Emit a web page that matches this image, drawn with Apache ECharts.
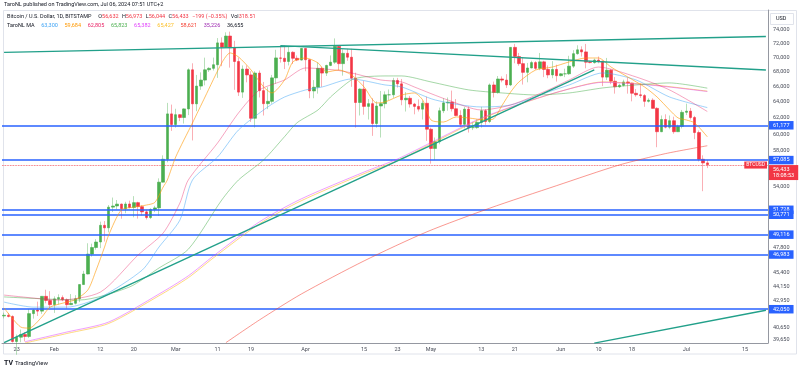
<!DOCTYPE html>
<html><head><meta charset="utf-8">
<script src="https://cdn.jsdelivr.net/npm/echarts@6/dist/echarts.min.js"></script>
<style>html,body{margin:0;padding:0;background:#fff}#c{width:800px;height:370px}</style>
</head><body><div id="c"></div>
<script>
// ---------- DATA ----------
const firstDate = '2024-01-20';     // first candle
const axisDays = 183;               // axis runs Jan 20 .. Jul 20
const opens = [41620,41680,41580,39540,39880,40100,39940,41820,42120,42030,43300,42940,
42580,43080,43190,43000,42580,42700,43090,44340,45290,47140,47770,48300,49950,49700,51810,51930,52130,51650,52140,51780,52280,51860,51320,50740,51570,51730,54480,57050,62500,
61180,62400,62050,63130,68300,63780,66100,66900,68300,68500,69000,72100,71480,73100,71400,69450,65300,68400,67600,61950,67850,65500,63800,64100,67200,69950,69900,69450,70750,69900,69650,
71300,69700,65450,65950,68500,67850,68900,69350,71600,69150,70600,70050,67150,63950,65700,63450,63800,61300,63500,63800,64950,64950,66850,66400,64300,64500,63750,63450,63100,63850,
60600,58300,59100,62900,63900,64000,63150,62300,61200,63100,60800,60800,61450,62900,61550,66250,65250,67050,66900,66250,71450,70150,69150,67950,68550,69300,68500,69400,68350,67600,68350,
67500,67750,67750,68800,70550,71100,70800,69350,69300,69650,69500,67300,68250,66750,66000,66200,66650,66500,65150,64950,64850,64100,64250,63200,60300,61800,60850,61650,60300,60950,
62700,62850,62050,60200,57050,56632];
const highs = [41900,41880,41680,40100,40500,40300,42200,42200,42840,43300,43880,43750,
43300,43480,43380,43120,43500,43400,44360,45580,48180,48140,48580,50320,50380,52030,52820,52560,52180,52370,52490,52970,52380,52000,51550,51700,51950,54900,57500,63900,63680,
63150,62450,63200,68500,69200,67600,67950,69990,68650,70000,72800,72900,73650,73750,72400,70000,68900,68900,68100,68100,68200,66650,65950,67600,71100,71500,71700,71500,70900,70300,71350,
71300,69700,66900,69300,68750,69000,70300,72750,71750,71150,71250,71250,67900,65800,66800,64400,64500,64100,65450,65400,65650,67200,67200,67050,65300,64800,63900,64350,64200,64700,
60800,59600,63300,64500,64600,65500,64400,62950,63400,63450,61500,61800,63400,63100,66450,66700,67450,67400,67700,71500,71950,70650,70050,69250,69550,69500,70650,69550,68900,69500,69000,
67850,68450,70250,71050,71750,71600,71950,69550,69850,70150,69550,69950,68400,67300,66400,66950,67250,66550,65700,66450,65050,64500,64500,63350,62300,62450,62300,62150,61150,63000,
63800,63250,62250,60450,57500,56973];
const lows = [41420,41500,39450,38500,39480,39550,39820,41400,41620,41800,42700,42300,
41880,42580,42880,42250,42560,42600,42800,44330,45250,46900,47560,47710,48350,49250,51310,51570,50620,51180,51680,50760,50630,50950,50540,50590,51290,50900,54450,56700,60400,
60800,61600,61300,62350,59250,62850,65600,66200,68000,68200,67200,68800,71400,68600,65600,64800,64550,66600,61500,60800,64600,62300,63100,63800,66400,69300,68400,68900,69100,69500,69600,
68100,64500,64500,65100,66000,67450,68800,69100,68250,67500,69550,66000,60800,62300,62400,61800,59800,60800,59600,63200,64250,64550,65900,63600,62800,63300,62450,62800,61800,59200,
56550,56950,58800,62600,62900,62800,62200,60900,60700,60200,60500,60650,60800,61150,61350,64600,65100,66600,65850,66100,69200,68850,66300,66600,68500,68300,68250,67300,67150,67150,66700,
67400,67300,67600,68550,70400,70150,68500,69200,69150,69200,66100,66900,66350,65100,65850,66050,65100,64100,64700,64550,63400,63950,63200,58450,60250,60700,60600,60050,60300,60700,
62350,61800,59400,56800,53500,56044];
const closes = [41680,41580,39540,39880,40100,39940,41820,42120,42030,43300,42940,42580,
43080,43190,43000,42580,42700,43090,44340,45290,47140,47770,48300,49950,49700,51810,51930,52130,51650,52140,51780,52280,51860,51320,50740,51570,51730,54480,57050,62500,61180,
62400,62050,63130,68300,63780,66100,66900,68300,68500,69000,72100,71480,73100,71400,69450,65300,68400,67600,61950,67850,65500,63800,64100,67200,69950,69900,69450,70750,69900,69650,71300,
69700,65450,65950,68500,67850,68900,69350,71600,69150,70600,70050,67150,63950,65700,63450,63800,61300,63500,63800,64950,64950,66850,66400,64300,64500,63750,63450,63100,63850,60600,
58300,59100,62900,63900,64000,63150,62300,61200,63100,60800,60800,61450,62900,61550,66250,65250,67050,66900,66250,71450,70150,69150,67950,68550,69300,68500,69400,68350,67600,68350,67500,
67750,67750,68800,70550,71100,70800,69350,69300,69650,69500,67300,68250,66750,66000,66200,66650,66500,65150,64950,64850,64100,64250,63200,60300,61800,60850,61650,60300,60950,62700,
62850,62050,60200,57050,56630,56433];

// Moving averages: [date, price]
const maFast = [['2024-01-20',42300],['2024-01-24',40700],['2024-01-26',40620],['2024-01-29',41530],['2024-01-31',42370],['2024-02-04',42800],['2024-02-06',43000],['2024-02-09',43850],['2024-02-11',45650],['2024-02-13',47810],['2024-02-14',49000],['2024-02-17',51510],['2024-02-20',51820],['2024-02-23',52030],['2024-02-25',52300],['2024-02-27',53950],['2024-02-28',54715],['2024-03-01',57310],['2024-03-05',61370],['2024-03-08',64660],['2024-03-12',69250],['2024-03-14',70660],['2024-03-16',70090],['2024-03-19',68276],['2024-03-22',65980],['2024-03-24',65190],['2024-03-27',66915],['2024-03-29',69390],['2024-04-01',69940],['2024-04-04',69250],['2024-04-06',68000],['2024-04-09',68276],['2024-04-12',67590],['2024-04-15',65980],['2024-04-18',63890],['2024-04-20',64020],['2024-04-24',64920],['2024-04-27',65190],['2024-04-29',64275],['2024-05-01',61740],['2024-05-04',61490],['2024-05-07',62120],['2024-05-10',61990],['2024-05-14',61740],['2024-05-16',61900],['2024-05-18',63600],['2024-05-20',65300],['2024-05-22',66650],['2024-05-26',68276],['2024-05-30',68680],['2024-06-03',69390],['2024-06-07',69940],['2024-06-10',69940],['2024-06-13',68680],['2024-06-17',67320],['2024-06-21',65980],['2024-06-24',64660],['2024-06-27',62990],['2024-06-29',62000],['2024-07-01',61740],['2024-07-03',61370],['2024-07-06',59684]];
const maPink = [['2024-01-20',43410],['2024-01-27',43150],['2024-02-02',42974],['2024-02-12',43670],['2024-02-21',47050],['2024-02-27',49180],['2024-03-02',52240],['2024-03-04',54715],['2024-03-11',58950],['2024-03-16',62620],['2024-03-21',65582],['2024-03-27',66915],['2024-04-01',68550],['2024-04-08',68276],['2024-04-12',67870],['2024-04-19',66915],['2024-04-24',66650],['2024-04-27',65980],['2024-05-05',64275],['2024-05-13',62994],['2024-05-20',63630],['2024-05-29',65582],['2024-06-03',66915],['2024-06-10',68680],['2024-06-19',67320],['2024-06-27',65582],['2024-07-06',62805]];
const maBlue = [['2024-01-20',42800],['2024-01-27',42370],['2024-02-04',42370],['2024-02-12',43220],['2024-02-22',45650],['2024-02-26',47810],['2024-03-02',50480],['2024-03-05',54715],['2024-03-11',57310],['2024-03-16',60510],['2024-03-23',63380],['2024-03-27',64660],['2024-04-01',65580],['2024-04-05',65980],['2024-04-12',67050],['2024-04-20',66250],['2024-04-24',65980],['2024-05-02',64275],['2024-05-13',63380],['2024-05-20',63630],['2024-05-29',65320],['2024-06-03',66250],['2024-06-11',67870],['2024-06-19',66915],['2024-06-27',64660],['2024-07-06',63300]];
const maGreen = [['2024-01-20',43250],['2024-02-07',42980],['2024-02-19',44130],['2024-02-26',45840],['2024-03-04',47600],['2024-03-12',52560],['2024-03-16',54720],['2024-03-22',56970],['2024-03-27',59700],['2024-03-30',61400],['2024-04-04',63000],['2024-04-07',64670],['2024-04-12',66920],['2024-04-15',67330],['2024-04-20',67460],['2024-04-24',67460],['2024-05-01',66650],['2024-05-10',65590],['2024-05-18',65190],['2024-05-26',64930],['2024-06-03',65190],['2024-06-11',65850],['2024-06-19',66250],['2024-06-27',66520],['2024-07-06',65823]];
const maMagenta = [['2024-01-25',39520],['2024-02-04',40300],['2024-02-14',41120],['2024-02-26',43500],['2024-03-04',45120],['2024-03-10',46960],['2024-03-21',50300],['2024-03-31',52680],['2024-04-15',55600],['2024-04-23',57080],['2024-05-01',59000],['2024-05-12',61750],['2024-05-21',63550],['2024-06-01',65420],['2024-06-11',66600],['2024-06-23',66200],['2024-07-06',65382]];
const maYellow = [['2024-01-25',39420],['2024-02-04',40180],['2024-02-14',41000],['2024-02-26',43350],['2024-03-04',44950],['2024-03-10',46780],['2024-03-21',50100],['2024-03-31',52480],['2024-04-15',55420],['2024-04-23',56900],['2024-05-01',58850],['2024-05-12',61650],['2024-05-21',63500],['2024-06-01',65420],['2024-06-11',66650],['2024-06-23',66260],['2024-07-06',65427]];
const maRed = [['2024-03-13',39450],['2024-03-21',41290],['2024-03-31',43500],['2024-04-15',46500],['2024-04-30',49300],['2024-05-15',51700],['2024-05-31',54100],['2024-06-15',56400],['2024-06-26',57700],['2024-07-06',58621]];

// Drawn trend lines: [date, price] end points
const trendTop = [['2024-01-20',70740],['2024-07-20',73020]];
const trendDown = [['2024-03-26',71700],['2024-07-20',68270]];
const trendUp = [['2024-01-20',39450],['2024-06-09',68290]];
const trendLow = [['2024-06-09',39412],['2024-07-20',42100]];

// Horizontal levels
const levels = [61177, 57085, 51728, 50771, 49116, 46983, 42050];
const lastPrice = 56433;
const priceTicks = [74000,72000,70000,68000,66000,64000,62000,60000,58000,54000,47800,45400,44150,42950,40650,39650];
const xLabelMap = {'2024-01-23':'23','2024-02-01':'Feb','2024-02-12':'12','2024-02-20':'20','2024-03-01':'Mar','2024-03-11':'11','2024-03-19':'19','2024-04-01':'Apr','2024-04-15':'15','2024-04-23':'23','2024-05-01':'May','2024-05-13':'13','2024-05-21':'21','2024-06-01':'Jun','2024-06-10':'10','2024-06-18':'18','2024-07-01':'Jul','2024-07-15':'15'};
const priceMin = 39420, priceMax = 77030;

// ---------- BUILD ----------
const L = Math.log;
const fmt = v => Math.round(v).toString().replace(/\B(?=(\d{3})+(?!\d))/g, ',');
const d0 = new Date(firstDate + 'T00:00:00Z');
const dates = [];
for (let i = 0; i < axisDays; i++) {
  dates.push(new Date(d0.getTime() + i * 86400000).toISOString().slice(0, 10));
}
const wickData = opens.map((o, i) => [L(o), L(closes[i]), L(lows[i]), L(highs[i])]);
const bodyData = opens.map((o, i) => [L(o), L(closes[i]), L(Math.min(o, closes[i])), L(Math.max(o, closes[i]))]);
const toLn = arr => arr.map(p => [p[0], L(p[1])]);
const FONT = 'Roboto, "Noto Sans", sans-serif';
const FS = 5.5;

function maSeries(data, color, z) {
  return { type: 'line', data: toLn(data), showSymbol: false, smooth: 0.25, silent: true, z: z || 5,
    lineStyle: { width: 1, color: color }, itemStyle: { color: color } };
}
function trend(data) {
  return { type: 'line', data: toLn(data), showSymbol: false, silent: true, z: 6,
    lineStyle: { width: 1.4, color: '#22a08a' } };
}

const levelLines = levels.map(p => ({
  yAxis: L(p),
  lineStyle: { color: '#2962ff', width: 1.5, type: 'solid' },
  label: { show: true, position: 'end', distance: 1, formatter: fmt(p), backgroundColor: '#2962ff',
    color: '#fff', fontSize: FS, fontFamily: FONT, padding: [1.5, 4, 1, 4] }
}));
levelLines.push({
  yAxis: L(lastPrice),
  lineStyle: { color: 'rgba(242,54,69,0.55)', width: 0.8, type: 'dotted' },
  label: { show: true, position: 'end', distance: 1, formatter: fmt(lastPrice) + '\n18:08:53',
    backgroundColor: '#f23645', color: '#fff', fontSize: FS, lineHeight: 6, fontFamily: FONT,
    padding: [1.5, 4, 1.5, 4], verticalAlign: 'top' }
});
levelLines.push({
  yAxis: L(lastPrice),
  lineStyle: { color: 'rgba(242,54,69,0.55)', width: 0.8, type: 'dotted' },
  label: { show: true, position: 'end', distance: -1, align: 'right', formatter: 'BTCUSD',
    backgroundColor: '#f23645', color: '#fff', fontSize: 5, fontFamily: FONT, padding: [1, 2, 1, 2] }
});

function rt(key, color) { return { fontSize: FS, fill: color, fontFamily: FONT }; }

const chart = echarts.init(document.getElementById('c'), null, { renderer: 'canvas', width: 800, height: 370 });
chart.setOption({
  animation: false,
  backgroundColor: '#ffffff',
  textStyle: { fontFamily: FONT },
  graphic: [
    { type: 'rect', shape: { x: 3.5, y: 10.5, width: 793, height: 343.5 }, style: { fill: 'none', stroke: '#e0e3eb', lineWidth: 1 }, z: 0, silent: true },
    { type: 'text', x: 4, y: 5, silent: true, z: 20,
      style: { text: 'TaroNL published on TradingView.com, Jul 06, 2024 07:51 UTC+2', fontSize: FS, fill: '#131722', fontFamily: FONT, verticalAlign: 'middle' } },
    { type: 'text', x: 7, y: 17, silent: true, z: 20,
      style: { verticalAlign: 'middle',
        text: '{n|Bitcoin / U.S. Dollar, 1D, BITSTAMP}  {n|O}{r|56,632} {n|H}{r|56,973} {n|L}{r|56,044} {n|C}{r|56,433} {r|−199 (−0.35%)} {n|Vol}{r|318.51}',
        rich: { n: rt('n', '#131722'), r: rt('r', '#f23645') } } },
    { type: 'text', x: 7, y: 26, silent: true, z: 20,
      style: { verticalAlign: 'middle',
        text: '{n|TaroNL MA}  {a|63,300}  {b|59,684}  {c|62,805}  {d|65,823}  {e|65,382}  {f|65,427}  {g|58,621}  {h|35,226}  {i|36,655}',
        rich: { n: rt('n', '#131722'), a: rt('a', '#42a5f5'), b: rt('b', '#ff9800'), c: rt('c', '#e91e63'),
          d: rt('d', '#4caf50'), e: rt('e', '#e040fb'), f: rt('f', '#fbc02d'), g: rt('g', '#f44336'),
          h: rt('h', '#9c27b0'), i: rt('i', '#131722') } } },
    { type: 'rect', shape: { x: 770.5, y: 13.5, width: 23, height: 11 }, style: { fill: '#fff', stroke: '#e0e3eb', lineWidth: 1 }, z: 10, silent: true },
    { type: 'text', x: 776, y: 19, silent: true, z: 11, style: { text: 'USD', fontSize: FS, fill: '#131722', fontFamily: FONT, verticalAlign: 'middle' } },
    { type: 'text', x: 4, y: 363, silent: true, style: { text: 'TV', fontSize: 7, fontWeight: 'bold', fill: '#131722', fontFamily: FONT, verticalAlign: 'middle' } },
    { type: 'text', x: 15, y: 363, silent: true, style: { text: 'TradingView', fontSize: 6, fill: '#131722', fontFamily: FONT, verticalAlign: 'middle' } }
  ],
  grid: { left: 2, right: 32, top: 10, bottom: 27, containLabel: false },
  xAxis: {
    type: 'category', data: dates, boundaryGap: true,
    axisLine: { show: true, lineStyle: { color: '#9598a1', width: 1 } },
    axisTick: { show: false }, splitLine: { show: false },
    axisLabel: { interval: (i, v) => xLabelMap[v] !== undefined, formatter: v => xLabelMap[v] || '',
      fontSize: FS, color: '#4a4e5a', margin: 4, fontFamily: FONT }
  },
  yAxis: {
    type: 'value', position: 'right', min: L(priceMin), max: L(priceMax), scale: true,
    splitLine: { show: false },
    axisLine: { show: true, lineStyle: { color: '#9598a1', width: 1 } },
    axisTick: { show: false },
    axisLabel: { customValues: priceTicks.map(L), formatter: v => fmt(Math.exp(v)),
      fontSize: FS, color: '#4a4e5a', margin: 5, fontFamily: FONT }
  },
  series: [
    { type: 'candlestick', name: 'wicks', data: wickData, barWidth: 1, silent: true, z: 2,
      itemStyle: { color: 'rgba(76,175,80,0.4)', color0: 'rgba(242,54,69,0.4)', borderColor: 'rgba(76,175,80,0.4)', borderColor0: 'rgba(242,54,69,0.4)', borderWidth: 1 } },
    { type: 'candlestick', name: 'bodies', data: bodyData, barWidth: 3, silent: true, z: 3,
      itemStyle: { color: '#4caf50', color0: '#f23645', borderColor: '#4caf50', borderColor0: '#f23645', borderWidth: 0.6 },
      markLine: { symbol: ['none', 'none'], silent: true, animation: false, data: levelLines } },
    maSeries(maRed, 'rgba(244,67,54,0.55)'),
    maSeries(maYellow, 'rgba(251,192,45,0.6)'),
    maSeries(maMagenta, 'rgba(224,64,251,0.5)'),
    maSeries(maGreen, 'rgba(76,175,80,0.5)'),
    maSeries(maBlue, 'rgba(66,165,245,0.5)'),
    maSeries(maPink, 'rgba(233,30,99,0.4)'),
    maSeries(maFast, 'rgba(255,152,0,0.6)'),
    trend(trendTop), trend(trendDown), trend(trendUp), trend(trendLow)
  ]
});
</script></body></html>
